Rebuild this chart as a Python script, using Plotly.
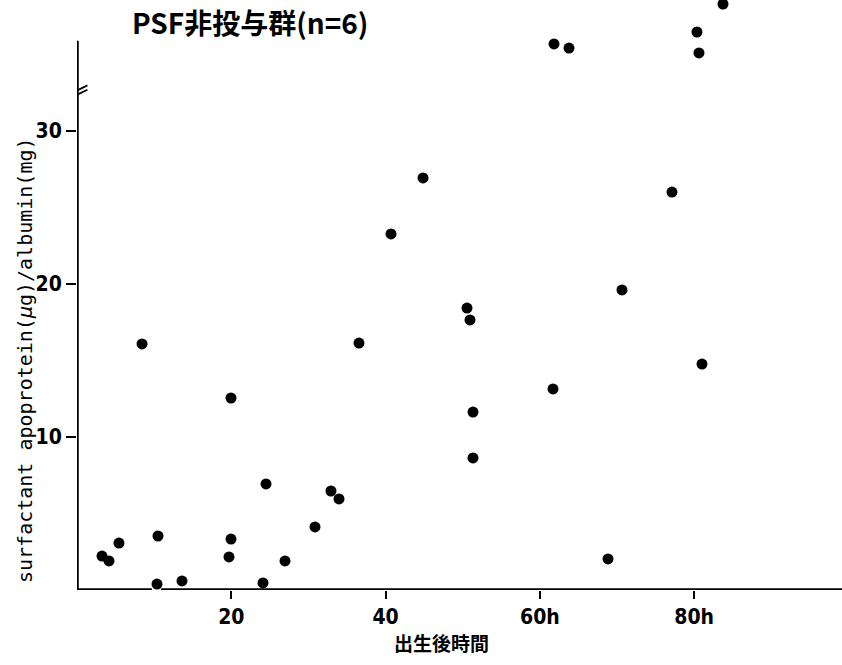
import plotly.graph_objects as go

# data (hours after birth, surfactant apoprotein/albumin)
hours = [3.24, 4.15, 5.44, 8.43, 10.50, 10.37, 13.61, 19.70, 19.96, 19.96, 24.11,
         24.50, 26.96, 30.85, 32.92, 33.96, 36.55, 40.70, 44.85, 50.55, 50.94,
         51.33, 51.33, 61.70, 61.83, 63.77, 68.83, 70.64, 77.12, 80.36, 80.62,
         81.01, 83.73]
ratio = [2.22, 1.90, 3.07, 16.08, 3.53, 0.39, 0.59, 2.16, 3.33, 12.55, 0.46,
         6.93, 1.90, 4.12, 6.47, 5.95, 16.14, 23.27, 26.93, 18.43, 17.65,
         11.63, 8.63, 13.14, 35.69, 35.42, 2.03, 19.61, 26.01, 36.47, 35.10,
         14.77, 38.30]

x_tickvals = [20, 40, 60, 80]
x_ticktext = ["20", "40", "60h", "80h"]
y_tickvals = [10, 20, 30]
y_ticktext = ["10", "20", "30"]

title_text = "PSF非投与群(n=6)"
x_title = "出生後時間"
y_title = "surfactant apoprotein(<i>μ</i>g)/albumin(mg)"

W, H = 842, 665
L, B = 77, 75
X_MAX = (W - L) / 7.715
Y_MAX = (H - B) / 15.3

num_font = "DejaVu Sans Condensed, Liberation Sans Narrow, Arial Narrow, sans-serif"
bold = lambda s: "<b>" + s + "</b>"

fig = go.Figure()
fig.add_trace(go.Scatter(
    x=hours, y=ratio, mode="markers",
    marker=dict(size=11, color="black"),
    cliponaxis=False, showlegend=False,
))

shapes = []
# x axis (with small gap)
shapes.append(dict(type="line", xref="x", yref="y", x0=0, x1=9.7, y0=0, y1=0,
                   line=dict(color="black", width=3.5)))
shapes.append(dict(type="line", xref="x", yref="y", x0=10.9, x1=X_MAX, y0=0, y1=0,
                   line=dict(color="black", width=3.5)))
# y axis
shapes.append(dict(type="line", xref="x", yref="y", x0=0, x1=0, y0=0, y1=35.9,
                   line=dict(color="black", width=3.5)))
# break marks on y axis
for dy in (0.0, 0.28):
    shapes.append(dict(type="line", xref="x", yref="y", x0=-1.25, x1=1.35,
                       y0=32.05 + dy, y1=32.7 + dy,
                       line=dict(color="black", width=1.8)))

fig.update_layout(
    width=W, height=H,
    margin=dict(l=L, r=0, t=0, b=B),
    paper_bgcolor="white", plot_bgcolor="white",
    shapes=shapes,
    xaxis=dict(range=[0, X_MAX], showgrid=False, zeroline=False, showline=False,
               tickmode="array", tickvals=x_tickvals,
               ticktext=[bold(t) for t in x_ticktext],
               ticks="outside", ticklen=8, tickwidth=1.5, tickcolor="black",
               tickfont=dict(family=num_font, size=21, color="black")),
    yaxis=dict(range=[0, Y_MAX], showgrid=False, zeroline=False, showline=False,
               tickmode="array", tickvals=y_tickvals,
               ticktext=[bold(t) for t in y_ticktext],
               ticks="outside", ticklen=10, tickwidth=1.5, tickcolor="black",
               tickfont=dict(family=num_font, size=21, color="black")),
    annotations=[
        dict(text=bold(title_text), xref="paper", yref="paper",
             x=(130 - L) / (W - L), y=(H - 22 - B) / (H - B), xanchor="left",
             yanchor="middle", showarrow=False,
             font=dict(family="Noto Sans CJK JP, sans-serif", size=28, color="black")),
        dict(text=bold(x_title), xref="paper", yref="paper",
             x=(441 - L) / (W - L), y=-(642 - (H - B)) / (H - B), xanchor="center",
             yanchor="middle", showarrow=False,
             font=dict(family="Noto Sans CJK JP, sans-serif", size=19, color="black")),
        dict(text=y_title, xref="paper", yref="paper", textangle=-90,
             x=(25 - L) / (W - L), y=(H - B - 360) / (H - B), xanchor="center",
             yanchor="middle", showarrow=False,
             font=dict(family="DejaVu Sans Mono, monospace", size=20, color="black")),
    ],
)

fig.write_html("out.html", config={"displayModeBar": False},
               post_script="document.body.style.margin='0';")
